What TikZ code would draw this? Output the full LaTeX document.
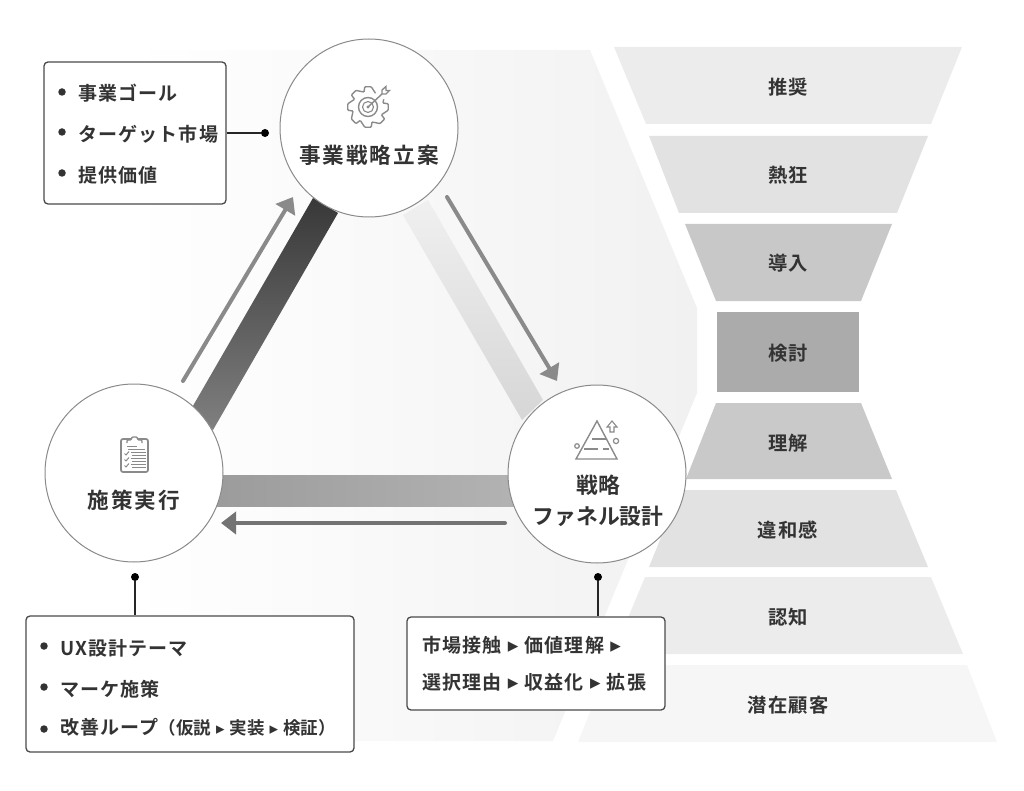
\documentclass[tikz,border=0pt]{standalone}
\usepackage{fontspec}
\setmainfont{Noto Sans CJK JP}[BoldFont={Noto Sans CJK JP Bold}]
\newfontfamily\jptrack{Noto Sans CJK JP}[LetterSpace=6,BoldFont={Noto Sans CJK JP Bold}]
\newfontfamily\jptitle{Noto Sans CJK JP}[LetterSpace=9,BoldFont={Noto Sans CJK JP Bold}]
\newfontfamily\jpplain{Noto Sans CJK JP}[BoldFont={Noto Sans CJK JP Bold}]
\newfontfamily\symf{DejaVu Sans}
\usetikzlibrary{arrows.meta,shadings,calc}
\definecolor{ink}{HTML}{333333}
\definecolor{edgegray}{HTML}{8A8A8A}
\definecolor{boxline}{HTML}{4A4A4A}
\newcommand{\tribig}{\makebox[23pt]{\symf\fontsize{21}{21}\selectfont ▸}}
\newcommand{\trismall}{\makebox[18.5pt]{\symf\fontsize{17}{17}\selectfont ▸}}
\tikzset{
 funnel/.style={draw=none},
 flabel/.style={font=\jptrack\bfseries\fontsize{19.3}{22}\selectfont,text=ink,inner sep=0pt},
 ctitle/.style={font=\jptitle\bfseries\fontsize{21.6}{31}\selectfont,text=ink,align=center,inner sep=0pt},
 listtext/.style={font=\jptrack\bfseries\fontsize{19}{22}\selectfont,text=ink,anchor=west,inner sep=0pt},
 bullet/.style={circle,fill=ink,draw=none,minimum size=7.5pt,inner sep=0pt},
 textbox/.style={draw=boxline,line width=1.3pt,rounded corners=4pt,fill=white,inner sep=0pt},
 stage/.style={circle,draw=edgegray,line width=1pt,fill=white,minimum size=178pt,inner sep=0pt},
 leader/.style={draw=black!85,line width=1.1pt},
 enddot/.style={circle,fill=black,minimum size=8pt,inner sep=0pt},
 flow/.style={draw=edgegray,line width=4pt,line cap=round,-{Triangle[length=15pt,width=22pt]}},
 ico/.style={draw=edgegray,line width=1.4pt,fill=none},
}
\begin{document}
\begin{tikzpicture}[x=1pt,y=-1pt]
\useasboundingbox (0,0) rectangle (1024,791);
% background
\shade[left color=white,right color=black!5.5,shading angle=90]
 (130,50) -- (590,50) -- (697,308) -- (697,393) -- (553,741) -- (130,741) -- cycle;
% funnel
\fill[funnel,fill=black!7.5]  (614,47) -- (962,47) -- (931,124) -- (646,124) -- cycle;
\fill[funnel,fill=black!11.5] (649,136) -- (928,136) -- (897,213) -- (679,213) -- cycle;
\fill[funnel,fill=black!21.5] (685,224) -- (892,224) -- (861,301) -- (716,301) -- cycle;
\fill[funnel,fill=black!33]   (717,312) -- (859,312) -- (859,392) -- (717,392) -- cycle;
\fill[funnel,fill=black!21]   (716,403) -- (861,403) -- (892,479) -- (686,479) -- cycle;
\fill[funnel,fill=black!11.5] (680,490) -- (896,490) -- (928,567) -- (649,567) -- cycle;
\fill[funnel,fill=black!7.5]  (645,577) -- (931,577) -- (963,654) -- (613,654) -- cycle;
\fill[funnel,fill=black!3.5]  (609,665) -- (967,665) -- (997,742) -- (578,742) -- cycle;
\node[flabel] (f1) at (788,87) {推奨};
\node[flabel] (f2) at (788,175) {熱狂};
\node[flabel] (f3) at (788,263) {導入};
\node[flabel] (f4) at (788,353) {検討};
\node[flabel] (f5) at (788,443) {理解};
\node[flabel] (f6) at (788,530) {違和感};
\node[flabel] (f7) at (788,617) {認知};
\node[flabel] (f8) at (788,705) {潜在顧客};
% bands
\shade[top color=black!78,bottom color=black!50]
 (313,198) -- (338,213) -- (213,430) -- (190,411) -- cycle;
\shade[top color=black!6,bottom color=black!16]
 (403,215) -- (428,200) -- (543,400) -- (522,420) -- cycle;
\shade[left color=black!39,right color=black!30]
 (215,475) rectangle (515,506);
% circles
\node[stage] (top) at (369,128) {};
\node[stage] (right) at (597,474) {};
\node[stage] (left) at (134,473) {};
\node[ctitle] (topt) at (369,155) {事業戦略立案};
\node[ctitle,font=\jpplain\bfseries\fontsize{21.8}{31}\selectfont] (rightt) at (598,501) {戦略\\ファネル設計};
\node[ctitle] (leftt) at (134,500) {施策実行};
% flows
\coordinate (a1s) at (183,381); \coordinate (a1e) at (293,197);
\coordinate (a2s) at (447,197); \coordinate (a2e) at (557,381);
\coordinate (a3s) at (505,523); \coordinate (a3e) at (221,523);
\draw[flow] (a1s) -- (a1e);
\draw[flow] (a2s) -- (a2e);
\draw[flow,draw=black!55] (a3s) -- (a3e);
% gear icon
\begin{scope}[shift={(368,107)}]
 \draw[ico,rounded corners=0.8pt]
  \foreach \a [count=\i] in {0,45,...,315}{
   \ifnum\i=1 ($(\a-9:20.5)$) \else -- ($(\a-15:15.5)$) -- ($(\a-9:20.5)$) \fi -- ($(\a+9:20.5)$)
  } -- ($(-15:15.5)$) -- cycle;
 \fill[white] (6,-9) -- (11,-23) -- (24,-23) -- (24,-7) -- cycle;
 \draw[ico] (0,0) circle (9.5);
 \draw[ico,line width=1.1pt] (0,0) circle (5.5);
 \fill[edgegray] (0,0) circle (1.6);
 \draw[ico] (0,0) -- (14,-13);
 \draw[ico] (14,-13) -- (14,-17) -- (18,-20.5) -- (18,-16.5) -- (21.5,-16.5) -- (18,-13) -- (14,-13);
\end{scope}
% pyramid icon
\draw[ico,line join=miter] (597,421) -- (617,459) -- (576,459) -- cycle;
\draw[ico] (592,439) -- (606,439);
\draw[ico] (584,449) -- (598,449) (603,449) -- (609,449);
\draw[ico,line width=1.2pt] (577,446) circle (2.3);
\draw[ico,line width=1.2pt] (616,441) circle (2.6);
\draw[ico,line width=1.1pt] (612,421) -- (617,427) -- (614,427) -- (614,432) -- (610,432) -- (610,427) -- (607,427) -- cycle;
% clipboard icon
\draw[ico,rounded corners=2pt,line width=1.7pt] (121,439) rectangle (148,472);
\draw[ico,fill=white,rounded corners=1pt] (127,443) -- (127,440) -- (131,440) -- (132,437) -- (137,437) -- (138,440) -- (142,440) -- (142,443);
\draw[ico,line width=0.9pt] (127,446) -- (137,446) (128,449) -- (145,449);
\foreach \yy in {453.5,459.5,465.5}{
 \draw[ico,line width=1pt] (124.5,\yy) -- (126,\yy+1.5) -- (129,\yy-2);
 \draw[ico,line width=1pt] (131,\yy-1.5) -- (145.5,\yy-1.5) (132,\yy+1.5) -- (145.5,\yy+1.5);
}
% box 1
\node[textbox,minimum width=182pt,minimum height=142pt] (b1) at (135,133) {};
\node[bullet] (b1a) at (62,92) {};
\node[bullet] (b1b) at (62,132) {};
\node[bullet] (b1c) at (62,173) {};
\node[listtext] (t1a) at (78,93) {事業ゴール};
\node[listtext] (t1b) at (78,134) {ターゲット市場};
\node[listtext] (t1c) at (78,175) {提供価値};
\node[enddot] (d1) at (265,133) {};
\draw[leader] (b1.east |- d1) -- (d1);
% box 3
\node[textbox,minimum width=328pt,minimum height=136pt] (b3) at (190,684) {};
\node[bullet] (b3a) at (44,646) {};
\node[bullet] (b3b) at (44,687) {};
\node[bullet] (b3c) at (44,729) {};
\node[listtext] (t3a) at (60,648) {UX設計テーマ};
\node[listtext] (t3b) at (60,689) {マーケ施策};
\node[listtext] (t3c) at (60,727) {改善ループ{\jpplain\bfseries\fontsize{17.5}{20}\selectfont （仮説\trismall 実装\trismall 検証）}};
\node[enddot] (d3) at (135,577) {};
\draw[leader] (d3) -- (d3 |- b3.north);
% box 4
\node[textbox,minimum width=258pt,minimum height=93pt] (b4) at (536,663.5) {};
\node[listtext,anchor=base west] (t4a) at (422,652) {市場接触\tribig 価値理解\tribig};
\node[listtext,anchor=base west] (t4b) at (422,689) {選択理由\tribig 収益化\tribig 拡張};
\node[enddot] (d4) at (598,577) {};
\draw[leader] (d4) -- (d4 |- b4.north);
\end{tikzpicture}
\end{document}
